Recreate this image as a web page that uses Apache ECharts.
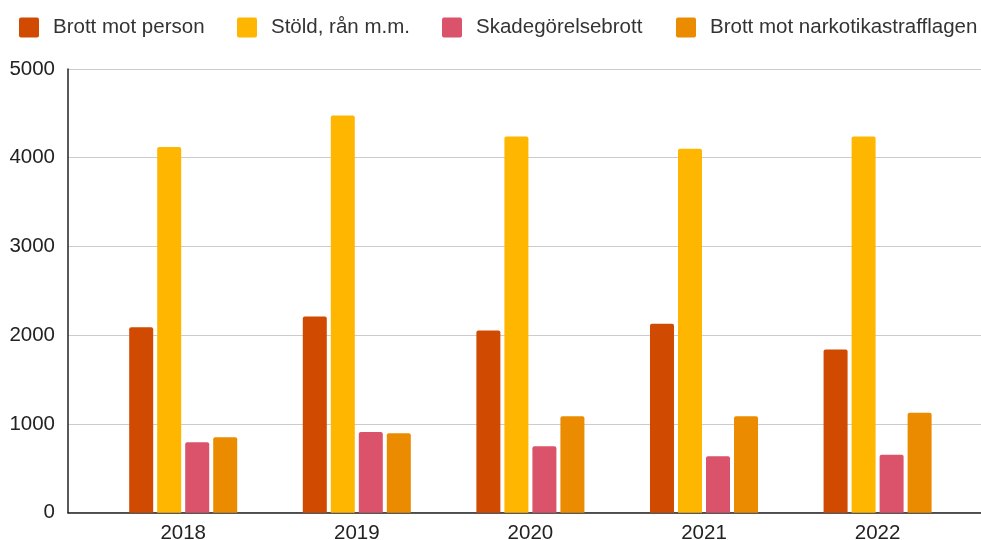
<!DOCTYPE html>
<html>
<head>
<meta charset="utf-8">
<script src="https://cdn.jsdelivr.net/npm/echarts@6/dist/echarts.min.js"></script>
<style>
html,body{margin:0;padding:0;background:#fff;}
#chart{width:981px;height:540px;}
</style>
</head>
<body>
<div id="chart"></div>
<script>
var categories = ['2018', '2019', '2020', '2021', '2022'];
var seriesNames = ['Brott mot person', 'Stöld, rån m.m.', 'Skadegörelsebrott', 'Brott mot narkotikastrafflagen'];
var brottMotPerson = [2090, 2212, 2054, 2128, 1840];
var stoldRan = [4120, 4475, 4240, 4100, 4240];
var skadegorelse = [793, 909, 748, 635, 653];
var narkotika = [849, 894, 1086, 1086, 1126];
var yTicks = [0, 1000, 2000, 3000, 4000, 5000];

var colors = ['#D04A02', '#FFB600', '#DB536A', '#EB8C00'];
var values = [brottMotPerson, stoldRan, skadegorelse, narkotika];
var font = 'Arial, "Liberation Sans", sans-serif';
var fs = 20.5;

var legendLefts = [19, 237, 442, 676];
var legends = seriesNames.map(function (n, i) {
  return {
    data: [{name: n, icon: 'path://M2,0 L18,0 Q20,0 20,2 L20,18 Q20,20 18,20 L2,20 Q0,20 0,18 L0,2 Q0,0 2,0 Z'}],
    left: legendLefts[i], top: 17,
    itemWidth: 20, itemHeight: 20,
    padding: 0,
    textStyle: {fontSize: fs, fontFamily: font, color: '#333', padding: [0, 0, 0, 9]},
    selectedMode: false
  };
});

var chart = echarts.init(document.getElementById('chart'), null, {renderer: 'canvas'});
chart.setOption({
  animation: false,
  color: colors,
  legend: legends,
  grid: [
    {left: 68, right: -5, top: 69, bottom: 27.3, containLabel: false, outerBoundsMode: 'none'},
    {left: 96.4, width: 868, top: 69, bottom: 27.3, containLabel: false, outerBoundsMode: 'none'}
  ],
  xAxis: [
    {gridIndex: 0, type: 'category', data: categories, axisLine: {show: true, lineStyle: {color: '#222', width: 1.5}},
      axisTick: {show: false}, axisLabel: {show: false}, splitLine: {show: false}},
    {gridIndex: 1, type: 'category', data: categories, axisLine: {show: false}, axisTick: {show: false},
      axisLabel: {show: true, fontSize: fs, fontFamily: font, color: '#222', margin: 10}, splitLine: {show: false}}
  ],
  yAxis: [
    {gridIndex: 0, type: 'value', min: yTicks[0], max: yTicks[yTicks.length - 1], interval: 1000,
      axisLine: {show: true, lineStyle: {color: '#222', width: 1.5}}, axisTick: {show: false},
      axisLabel: {fontSize: fs, fontFamily: font, color: '#222', margin: 13, formatter: function (v) { return String(v); }},
      splitLine: {show: true, lineStyle: {color: '#cccccc', width: 1.2}}},
    {gridIndex: 1, type: 'value', min: yTicks[0], max: yTicks[yTicks.length - 1], interval: 1000,
      show: false, splitLine: {show: false}}
  ],
  series: seriesNames.map(function (n, i) {
    return {
      name: n, type: 'bar', xAxisIndex: 1, yAxisIndex: 1,
      data: values[i], barWidth: 24, barGap: '16.7%',
      itemStyle: {color: colors[i], borderRadius: [2, 2, 0, 0]}
    };
  })
});
</script>
</body>
</html>
